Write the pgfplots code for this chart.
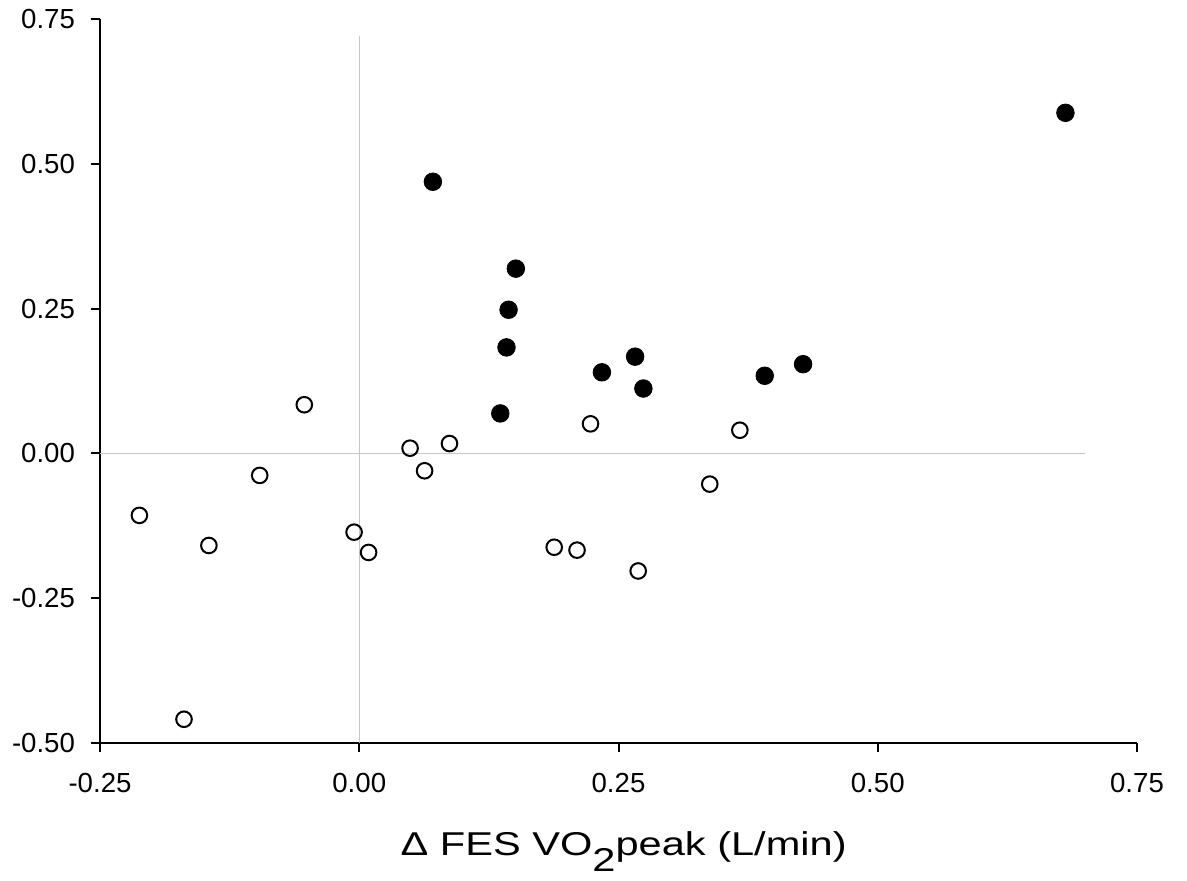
\documentclass[border=0pt]{standalone}
\usepackage{pgfplots}
\pgfplotsset{compat=1.18}
\usepackage{fontspec}
\setmainfont{Liberation Sans}

\begin{document}
\begin{tikzpicture}
\begin{axis}[
  scale only axis,
  width=518.5pt,
  height=362pt,
  xmin=-0.25, xmax=0.75,
  ymin=-0.5, ymax=0.75,
  axis x line*=bottom,
  axis y line*=left,
  axis line style={line width=1pt},
  xtick={-0.25,0,0.25,0.5,0.75},
  ytick={-0.5,-0.25,0,0.25,0.5,0.75},
  tick align=outside,
  major tick length=4.5pt,
  tick style={line width=1pt, black},
  /pgf/number format/.cd, fixed, fixed zerofill, precision=2, assume math mode=true,
  /pgfplots/.cd,
  ticklabel style={font=\fontsize{13.8}{16}\selectfont},
  xticklabel style={yshift=-7pt},
  yticklabel style={xshift=-4.5pt},
  xlabel={\scalebox{1.26}[1]{Δ FES VO\raisebox{-8pt}{2}peak (L/min)}},
  xlabel style={font=\fontsize{16.5}{19}\selectfont, anchor=base,
    at={(axis description cs:0.505,0)}, yshift=-56.5pt},
  clip=false,
]
  % reference lines
  \addplot [line width=0.5pt, color=black!22] coordinates {(0,-0.5) (0,0.72)};
  \addplot [line width=0.5pt, color=black!22] coordinates {(-0.25,0) (0.70,0)};

  % open circles
  \addplot [only marks, mark=o, mark size=3.9pt, mark options={line width=1pt, black, fill=white}] table {
-0.212 -0.107
-0.145 -0.159
-0.169 -0.459
-0.096 -0.038
-0.053 0.084
-0.005 -0.136
0.009 -0.171
0.049 0.009
0.063 -0.030
0.087 0.017
0.188 -0.162
0.210 -0.167
0.223 0.051
0.269 -0.203
0.338 -0.053
0.367 0.040
};

  % filled circles
  \addplot [only marks, mark=*, mark size=4.4pt, mark options={line width=0.4pt, black, fill=black}] table {
0.071 0.469
0.151 0.319
0.144 0.248
0.142 0.183
0.136 0.069
0.234 0.140
0.266 0.167
0.274 0.112
0.391 0.134
0.428 0.154
0.681 0.588
};
\end{axis}
\pgfresetboundingbox
\useasboundingbox (-50pt,-69pt) rectangle (543.5pt,371.5pt);
\end{tikzpicture}
\end{document}
